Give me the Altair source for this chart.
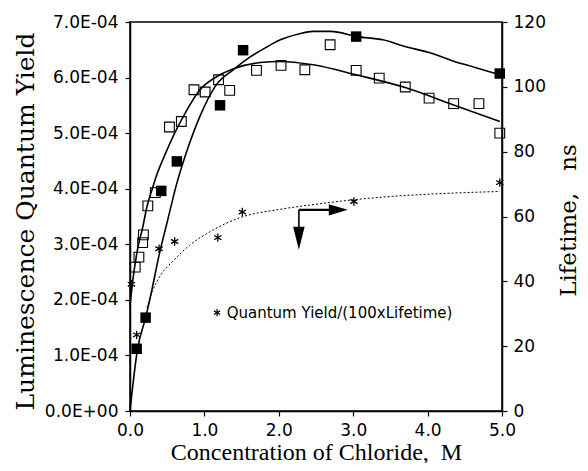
import altair as alt
import pandas as pd

# ---- axis ticks ----
x_ticks = [0, 1, 2, 3, 4, 5]
qy_ticks = [0, 1, 2, 3, 4, 5, 6, 7]          # quantum yield, units of 1E-04
ns_ticks = [0, 20, 40, 60, 80, 100, 120]     # lifetime, ns

# ---- open squares: luminescence quantum yield (x1E-04) ----
open_x = [0.07, 0.12, 0.17, 0.18, 0.24, 0.34, 0.53, 0.69, 0.86, 1.01, 1.19, 1.34,
          1.70, 2.03, 2.35, 2.69, 3.04, 3.35, 3.70, 4.02, 4.35, 4.69, 4.97]
open_qy = [2.59, 2.77, 3.03, 3.17, 3.69, 3.93, 5.11, 5.21, 5.78, 5.74, 5.96, 5.77,
           6.13, 6.22, 6.14, 6.59, 6.13, 5.99, 5.83, 5.63, 5.53, 5.53, 5.00]

# ---- filled squares: lifetime (ns) ----
filled_x = [0.09, 0.21, 0.42, 0.63, 1.21, 1.52, 3.04, 4.97]
filled_ns = [19.2, 28.8, 67.9, 77.0, 94.3, 111.3, 115.5, 104.1]

# ---- asterisks: quantum yield / (100 x lifetime) (x1E-04) ----
star_x = [0.02, 0.09, 0.39, 0.60, 1.18, 1.51, 3.01, 4.97]
star_qy = [2.28, 1.37, 2.92, 3.05, 3.12, 3.58, 3.77, 4.11]

# ---- fitted curve through open squares (x1E-04) ----
fitA_x = [0.0, 0.03, 0.10, 0.17, 0.23, 0.30, 0.36, 0.45, 0.60, 0.75, 0.94, 1.17,
          1.39, 1.75, 2.02, 2.46, 3.04, 3.70, 4.34, 4.97]
fitA_qy = [1.90, 2.27, 2.90, 3.30, 3.69, 4.00, 4.25, 4.55, 5.00, 5.38, 5.78, 6.02,
           6.16, 6.27, 6.29, 6.23, 6.05, 5.82, 5.51, 5.21]

# ---- fitted curve through filled squares (ns) ----
fitB_x = [0.0, 0.10, 0.21, 0.30, 0.39, 0.50, 0.63, 0.77, 0.94, 1.15, 1.39, 1.60,
          1.84, 2.02, 2.28, 2.46, 2.70, 3.05, 3.40, 3.72, 4.02, 4.34, 4.65, 4.97]
fitB_ns = [0.0, 18.9, 28.8, 38.0, 48.0, 58.3, 70.3, 80.6, 90.9, 100.3, 105.3, 109.0,
           112.3, 114.5, 116.4, 117.1, 117.1, 115.5, 114.5, 112.3, 110.6, 108.0, 105.9, 103.7]

# ---- dotted curve through asterisks (x1E-04) ----
dot_x = [0.23, 0.30, 0.40, 0.58, 0.80, 1.12, 1.48, 2.02, 2.50, 3.00, 3.50, 4.00, 4.50, 4.97]
dot_qy = [1.86, 2.15, 2.42, 2.70, 2.98, 3.26, 3.48, 3.63, 3.72, 3.80, 3.86, 3.90, 3.93, 3.95]

# ---- annotations ----
legend_text = ["Quantum Yield/(100xLifetime)"]
legend_marker_x, legend_marker_y = [1.17], [1.77]
legend_label_x, legend_label_y = [1.30], [1.77]
arrow_origin_x, arrow_origin_y = [2.27], [3.62]
arrow_right_tip_x = [2.80]
arrow_down_tip_y = [3.11]

STAR = "M0,-1L0,1M-0.87,-0.5L0.87,0.5M-0.87,0.5L0.87,-0.5"
TRI_RIGHT = "M-1,-0.6L1,0L-1,0.6Z"
TRI_DOWN = "M-0.5,-1L0,1L0.5,-1Z"

xscale = alt.Scale(domain=[0, 5], nice=False)
yscale = alt.Scale(domain=[0, 7], nice=False)
nsscale = alt.Scale(domain=[0, 120], nice=False)

x_axis = alt.Axis(values=x_ticks, format=".1f", title="Concentration of Chloride,\u00a0\u00a0M",
                  titleBaseline="alphabetic", titleY=48, tickSize=5, labelPadding=6,
                  labelFlush=False)
y_axis = alt.Axis(values=qy_ticks, title="Luminescence Quantum Yield",
                  labelExpr="datum.value == 0 ? '0.0E+00' : format(datum.value, '.1f') + 'E-04'",
                  titleAngle=270, titleX=-105, titleY=199, titleBaseline="middle",
                  titleFont="DejaVu Serif", titleFontSize=25,
                  tickSize=5, labelPadding=7, labelFlush=False)
ns_axis = alt.Axis(values=ns_ticks, format="d", orient="right", title="Lifetime,\u00a0\u00a0\u00a0ns",
                   titleAngle=270, titleX=66, titleY=198, titleBaseline="middle",
                   titleFont="DejaVu Serif", titleFontSize=23,
                   tickSize=5, labelPadding=6, labelFlush=False)


def X(f="x"):
    return alt.X(f"{f}:Q", scale=xscale, axis=x_axis)


def YL(f="y"):
    return alt.Y(f"{f}:Q", scale=yscale, axis=y_axis)


def YR(f="y"):
    return alt.Y(f"{f}:Q", scale=nsscale, axis=ns_axis)


df_open = pd.DataFrame({"x": open_x, "y": open_qy})
df_star = pd.DataFrame({"x": star_x, "y": star_qy})
df_fitA = pd.DataFrame({"x": fitA_x, "y": fitA_qy})
df_dot = pd.DataFrame({"x": dot_x, "y": dot_qy})
df_filled = pd.DataFrame({"x": filled_x, "y": filled_ns})
df_fitB = pd.DataFrame({"x": fitB_x, "y": fitB_ns})

open_pts = alt.Chart(df_open).mark_point(shape="square", filled=False, color="black",
                                         size=95, strokeWidth=1.1, opacity=1).encode(x=X(), y=YL())
fitA = alt.Chart(df_fitA).mark_line(color="black", strokeWidth=1.6,
                                    interpolate="monotone").encode(x=X(), y=YL())
stars = alt.Chart(df_star).mark_point(shape=STAR, filled=False, color="black",
                                      size=70, strokeWidth=1.3, opacity=1).encode(x=X(), y=YL())
dotted = alt.Chart(df_dot).mark_line(color="black", strokeWidth=1, strokeDash=[2, 2],
                                     interpolate="monotone").encode(x=X(), y=YL())

leg_star = alt.Chart(pd.DataFrame({"x": legend_marker_x, "y": legend_marker_y})).mark_point(
    shape=STAR, filled=False, color="black", size=50, strokeWidth=1.2, opacity=1).encode(x=X(), y=YL())
leg_text = alt.Chart(pd.DataFrame({"x": legend_label_x, "y": legend_label_y, "t": legend_text})).mark_text(
    align="left", baseline="middle", font="DejaVu Sans", fontSize=15, color="black").encode(
    x=X(), y=YL(), text="t:N")

df_arrow = pd.DataFrame({"x": arrow_origin_x, "x2": arrow_right_tip_x, "y": arrow_origin_y,
                         "y2": arrow_down_tip_y})
shaft_h = alt.Chart(df_arrow).mark_rule(color="black", strokeWidth=2.2).encode(
    x=X(), x2="x2:Q", y=YL())
shaft_v = alt.Chart(df_arrow).mark_rule(color="black", strokeWidth=1.6).encode(
    x=X(), y=YL(), y2="y2:Q")
head_r = alt.Chart(df_arrow).mark_point(shape=TRI_RIGHT, filled=True, color="black",
                                        size=361, opacity=1).encode(x=X("x2"), y=YL())
head_d = alt.Chart(df_arrow).mark_point(shape=TRI_DOWN, filled=True, color="black",
                                        size=529, opacity=1).encode(x=X(), y=YL("y2"))

left = alt.layer(open_pts, fitA, dotted, stars, leg_star, leg_text, shaft_h, shaft_v, head_r, head_d)

filled_pts = alt.Chart(df_filled).mark_point(shape="square", filled=True, color="black",
                                             size=110, opacity=1).encode(x=X(), y=YR())
fitB = alt.Chart(df_fitB).mark_line(color="black", strokeWidth=1.6,
                                    interpolate="monotone").encode(x=X(), y=YR())
right = alt.layer(fitB, filled_pts)

chart = alt.layer(left, right).resolve_scale(y="independent").properties(
    width=372, height=389,
    autosize=alt.AutoSizeParams(type="none"),
    padding={"left": 122, "top": 14, "right": 78, "bottom": 52},
    background="white",
).configure_view(stroke="black", strokeWidth=1.5).configure_axis(
    grid=False, domainColor="black", domainWidth=1.5, tickColor="black", tickWidth=1.2,
    labelFont="DejaVu Sans", labelFontSize=17, labelColor="black",
    titleFont="Liberation Serif", titleFontSize=24, titleFontWeight="normal", titleColor="black",
)

chart.save("out.html", embed_options={"renderer": "svg", "actions": False})
